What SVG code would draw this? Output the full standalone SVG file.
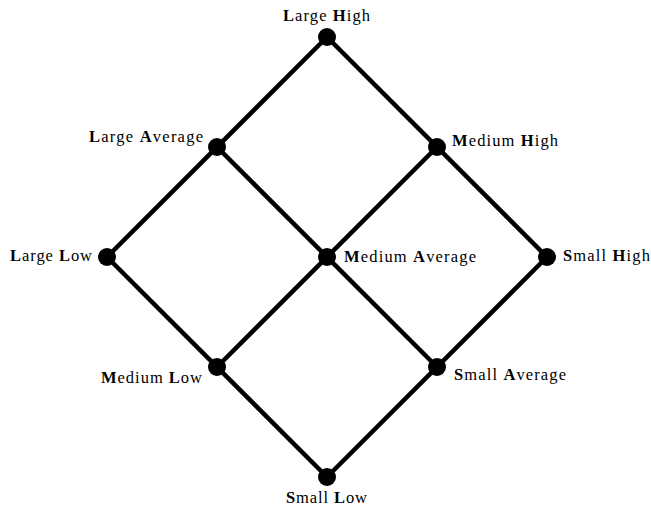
<svg xmlns="http://www.w3.org/2000/svg" width="651" height="510" viewBox="0 0 651 510">
<style>
.e{stroke:#000;stroke-width:4.5;fill:none;stroke-linecap:round}
.n{fill:#000}
text{font-family:"Liberation Serif","Times New Roman",serif;font-size:16.5px;fill:#000}
.b{font-weight:bold}
</style>
<rect width="651" height="510" fill="#fff"/>
<g id="edges">
<line class="e" x1="327" y1="37" x2="107" y2="257"/>
<line class="e" x1="437" y1="147" x2="217" y2="367"/>
<line class="e" x1="547" y1="257" x2="327" y2="477"/>
<line class="e" x1="327" y1="37" x2="547" y2="257"/>
<line class="e" x1="217" y1="147" x2="437" y2="367"/>
<line class="e" x1="107" y1="257" x2="327" y2="477"/>
</g>
<g id="large-high"><circle class="n" cx="327" cy="37" r="9"/><text x="283" y="21" textLength="87" lengthAdjust="spacing"><tspan class="b">L</tspan>arge <tspan class="b">H</tspan>igh</text></g>
<g id="large-average"><circle class="n" cx="217" cy="147" r="9"/><text x="89" y="142" textLength="114" lengthAdjust="spacing"><tspan class="b">L</tspan>arge <tspan class="b">A</tspan>verage</text></g>
<g id="medium-high"><circle class="n" cx="437" cy="147" r="9"/><text x="452" y="146" textLength="106" lengthAdjust="spacing"><tspan class="b">M</tspan>edium <tspan class="b">H</tspan>igh</text></g>
<g id="large-low"><circle class="n" cx="107" cy="257" r="9"/><text x="10" y="261" textLength="82" lengthAdjust="spacing"><tspan class="b">L</tspan>arge <tspan class="b">L</tspan>ow</text></g>
<g id="medium-average"><circle class="n" cx="327" cy="257" r="9"/><text x="344" y="262" textLength="132" lengthAdjust="spacing"><tspan class="b">M</tspan>edium <tspan class="b">A</tspan>verage</text></g>
<g id="small-high"><circle class="n" cx="547" cy="257" r="9"/><text x="563" y="261" textLength="87" lengthAdjust="spacing"><tspan class="b">S</tspan>mall <tspan class="b">H</tspan>igh</text></g>
<g id="medium-low"><circle class="n" cx="217" cy="367" r="9"/><text x="101" y="383" textLength="101" lengthAdjust="spacing"><tspan class="b">M</tspan>edium <tspan class="b">L</tspan>ow</text></g>
<g id="small-average"><circle class="n" cx="437" cy="367" r="9"/><text x="454" y="380" textLength="112" lengthAdjust="spacing"><tspan class="b">S</tspan>mall <tspan class="b">A</tspan>verage</text></g>
<g id="small-low"><circle class="n" cx="327" cy="477" r="9"/><text x="286" y="503" textLength="81" lengthAdjust="spacing"><tspan class="b">S</tspan>mall <tspan class="b">L</tspan>ow</text></g>
</svg>
